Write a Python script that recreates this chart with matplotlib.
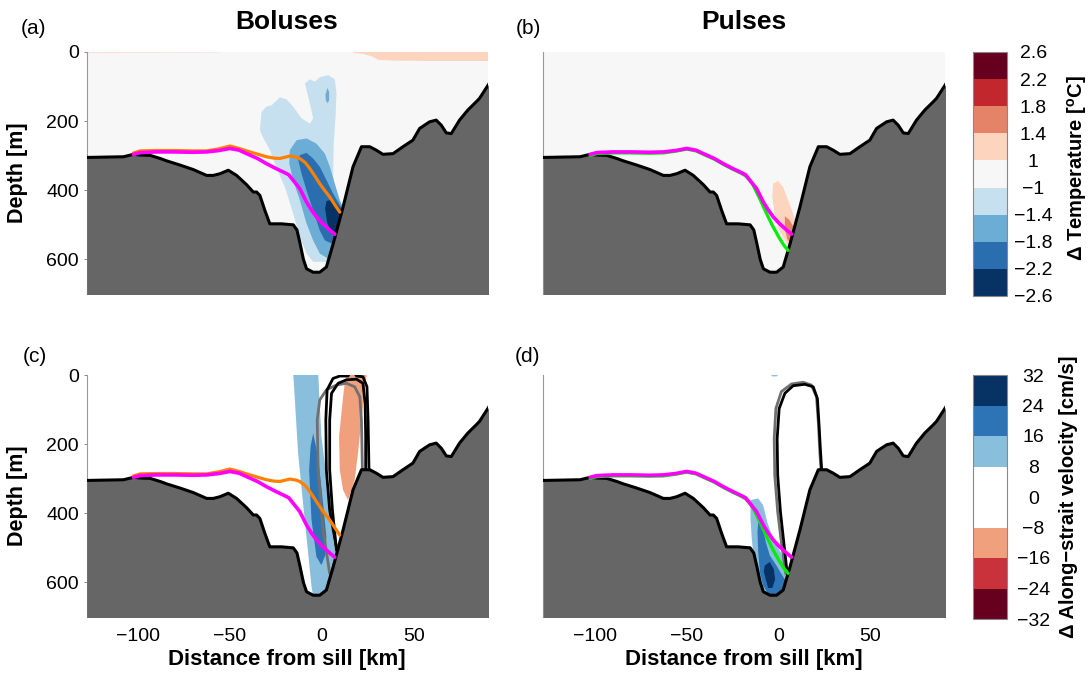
import matplotlib
matplotlib.use("Agg")
import matplotlib.pyplot as plt
from matplotlib.colors import ListedColormap, BoundaryNorm
from matplotlib.cm import ScalarMappable

plt.rcParams['font.family'] = ['Liberation Sans', 'DejaVu Sans']
plt.rcParams['mathtext.fontset'] = 'custom'
plt.rcParams['mathtext.rm'] = 'Liberation Sans'
plt.rcParams['mathtext.bf'] = 'Liberation Sans:bold'

# ---------------- data ----------------
titles = ["Boluses", "Pulses"]
panel_labels = ["(a)", "(b)", "(c)", "(d)"]
x_ticks = [-100, -50, 0, 50]
y_ticks = [0, 200, 400, 600]

# bathymetry (km, depth m)
bathy_km = [-128, -118, -108, -102.5, -98.9, -93.5, -88, -84.4, -77.2, -70, -62.7, -59.1,
            -55.4, -50.9, -46.4, -40.9, -37.3, -35.5, -33.7, -31.0, -28.3, -22, -15.5,
            -13.5, -12.0, -10.0, -8.3, -4.7, -1.1, 2.5, 6.2, 11.6, 17.0, 21.6, 26.1, 29.7,
            33.3, 38.8, 44.2, 49.6, 53.3, 58.7, 62.3, 65.1, 67.8, 70.5, 75.0, 79.5, 84.1,
            85.9, 91]
bathy_depth = [305, 304, 303, 296, 298, 299, 308, 315, 327, 340, 357, 357, 352, 342, 357,
               384, 405, 405, 415, 458, 497, 497, 500, 515, 550, 600, 627, 637, 637, 622,
               555, 448, 332, 274, 274, 284, 296, 294, 274, 255, 221, 202, 197, 212, 234,
               236, 197, 168, 144, 134, 92]

# isopycnal / plume lines
magenta_km = [-102.5, -98.9, -90, -80.8, -70, -62.7, -56, -50, -45, -40.9, -35, -30.1,
              -25, -21.0, -18, -15.6, -12.0, -8.3, -5.5, -2.9, 0, 2.5, 5, 7.1]
magenta_depth = [296, 291, 289, 289, 290, 289, 285, 279, 284, 294, 308, 323, 337, 347,
                 355, 371, 395, 434, 458, 477, 494, 506, 518, 527]
orange_km = [-102.5, -98.9, -90, -80, -70, -62.7, -56, -50, -45, -39.1, -34, -30.1, -26,
             -22.8, -17.4, -14, -12.0, -9, -6.5, -4, -1.1, 1.5, 4.3, 7, 9.8]
orange_depth = [292, 286, 285, 285, 286, 286, 280, 272, 279, 289, 297, 303, 307, 308, 301,
                304, 308, 320, 337, 357, 381, 400, 419, 441, 463]
green_km = [-102.5, -98.9, -90, -80.8, -70, -62.7, -56, -50, -45, -40.9, -35, -30.1, -25,
            -21.0, -18, -15.6, -13.9, -10.2, -6.6, -3.0, 0.6, 3, 5.2]
green_depth = [299, 294, 292, 292, 293, 292, 287, 281, 286, 296, 310, 325, 339, 349, 358,
               372, 385, 425, 467, 506, 540, 560, 574]

# temperature colour scale
temp_bounds = [-2.6, -2.2, -1.8, -1.4, -1, 1, 1.4, 1.8, 2.2, 2.6]
temp_ticklabels = ["\u22122.6", "\u22122.2", "\u22121.8", "\u22121.4", "\u22121",
                   "1", "1.4", "1.8", "2.2", "2.6"]
temp_colors = ["#063264", "#2a6eb0", "#6badd5", "#c7e0ef", "#f7f7f7",
               "#fdd4bd", "#e58368", "#c1272d", "#67001f"]

# velocity colour scale
vel_bounds = [-32, -24, -16, -8, 0, 8, 16, 24, 32]
vel_ticklabels = ["\u221232", "\u221224", "\u221216", "\u22128", "0", "8", "16", "24", "32"]
vel_colors = ["#67001f", "#c9323a", "#f1a07d", "#ffffff", "#ffffff",
              "#89bedc", "#2c74b5", "#063264"]

# (a) temperature anomaly regions
a_peach_right_km = [17, 91, 91, 60, 40, 31, 27, 22, 17]
a_peach_right_depth = [-10, -10, 26, 26, 25, 23, 12, 5, 2]
a_peach_left_km = [-128, -55, -55, -128]
a_peach_left_depth = [-10, -10, 1, 2]
a_lblue_km = [-33.7, -32.8, -30.1, -27.3, -22.8, -19.2, -15.6, -11.0, -6.5, -4.7, -6.5,
              -9.2, -6.5, -3.8, -1.1, 3.5, 7.1, 8.0, 7.5, 6.5, 6.2, 7.1, 12, 12, 4.4, -4.7,
              -8.3, -11.9, -15.6, -20.1, -24.6, -28.2, -32.2]
a_lblue_depth = [226, 173, 158, 154, 131, 137, 158, 192, 207, 192, 149, 91, 79, 86, 73,
                 67, 79, 120, 187, 265, 352, 429, 480, 600, 607, 607, 583, 535, 467, 390,
                 337, 284, 245]
a_dot_km = [2.0, 3.0, 4.0, 4.0, 3.2, 2.2]
a_dot_depth = [125, 104, 115, 140, 148, 140]
a_mblue_km = [-17.4, -13.7, -8.3, -2.9, 1.7, 4.4, 7.1, 9.8, 13, 10, 3.5, -1.1, -4.7,
              -8.3, -11.9, -15.6, -17.7]
a_mblue_depth = [284, 255, 250, 265, 294, 332, 381, 429, 467, 564, 598, 583, 545, 496,
                 429, 371, 323]
a_blue_km = [-11.9, -8.3, -4.7, -1.1, 2.6, 6.2, 11, 10, 5.3, 1.7, -1.1, -4.7, -8.3,
             -11.0, -12.8]
a_blue_depth = [298, 292, 308, 332, 371, 410, 453, 525, 554, 545, 516, 458, 400, 352, 313]
a_navy_km = [2.6, 6.2, 9.4, 12, 8.0, 5.3, 2.9, 1.8]
a_navy_depth = [431, 427, 448, 467, 535, 525, 492, 453]

# (b) temperature anomaly regions
b_peach_km = [-3.0, -0.3, 2.4, 5.2, 7.9, 10.1, 8.8, 5.2, 2.4, -0.3, -2.1, -3.4]
b_peach_depth = [381, 373, 390, 429, 468, 506, 555, 559, 535, 506, 468, 419]
b_salmon_km = [3.4, 5.7, 8.2, 8.8, 6.4, 4.6, 3.4]
b_salmon_depth = [475, 485, 506, 540, 556, 540, 511]

# (c) velocity anomaly regions
c_lblue_km = [-15.6, -12.9, -10.2, -7.4, -5.6, -4.7, 6.1, 8.0, 6.5, 4.4, 2.2, -0.2, -1.1,
              -2.0]
c_lblue_depth = [-10, 226, 371, 516, 612, 640, 640, 487, 420, 350, 280, 178, 87, -10]
c_blue_km = [-4.7, -2.0, 0.7, 2.5, 2.0, -0.2, -2.9, -5.6, -6.9, -6.1]
c_blue_depth = [169, 236, 371, 468, 520, 550, 526, 419, 275, 207]
c_salmon_km = [14.3, 24.6, 23.4, 21.6, 19.7, 17.9, 14.3, 11.6, 9.8, 9.4, 11.6, 12.5]
c_salmon_depth = [-10, -10, 43, 130, 226, 304, 362, 333, 275, 178, 63, 24]

# (c) streamfunction contours
c_gray_km = [4.3, 0.7, -2.0, -2.5, -1.1, 2.5, 8.0, 13.4, 17.9, 20.7, 21.6, 22.1, 22.3]
c_gray_depth = [574, 448, 275, 130, 72, 43, 29, 24, 34, 63, 130, 275, 285]
c_black_outer_km = [8.9, 4.3, 2.5, 2.2, 2.9, 6.1, 9.8, 14.3, 15.5, 17.5, 18.9, 22.4,
                    24.6, 25.2, 25.7, 25.8]
c_black_outer_depth = [526, 391, 275, 130, 43, 10, 3, 3, -10, -10, 3, 5, 34, 130, 275,
                       285]
c_black_inner_km = [8.0, 5.8, 4.3, 4.3, 5.3, 8.9, 13.4, 18.9, 22.4, 23.6, 23.9, 23.9]
c_black_inner_depth = [506, 391, 275, 130, 53, 24, 14, 12, 24, 82, 178, 285]

# (d) velocity anomaly regions
d_lblue_km = [-15.3, -11.1, -8.4, -6.2, -3.0, 1.0, 4.6, 5.7, 3.9, -1.2, -6.6, -9.3,
              -12.0, -13.9, -14.6, -15.3]
d_lblue_depth = [362, 357, 377, 425, 473, 512, 560, 594, 628, 640, 636, 604, 555, 512,
                 473, 415]
d_top_km = [-4.8, 0.6, -1.0, -3.5]
d_top_depth = [-5, -5, 4, 4]
d_blue_km = [-11.1, -8.8, -7.0, -4.8, -1.2, 1.5, 4.3, 3.4, -1.2, -5.7, -8.4, -10.2,
             -11.1, -11.5]
d_blue_depth = [425, 435, 483, 522, 551, 575, 599, 630, 638, 634, 609, 570, 512, 454]
d_navy_km = [-7.5, -4.8, -2.6, -1.9, -3.4, -5.7, -7.0, -8.1]
d_navy_depth = [551, 541, 562, 591, 616, 616, 591, 568]

# (d) streamfunction contours
d_black_km = [4.6, 3.0, 1.0, -0.5, -0.8, 0.3, 3.4, 7.9, 14.2, 18.8, 21.1, 22.0, 22.8, 23.5]
d_black_depth = [570, 493, 396, 290, 184, 97, 53, 31, 27, 34, 68, 145, 222, 280]
d_gray_km = [3.9, 1.7, -0.5, -2.1, -2.4, -1.5, 1.5, 7.0, 13.3, 17.8, 20.6, 21.7, 22.4, 23.1]
d_gray_depth = [575, 493, 396, 290, 184, 97, 48, 26, 21, 29, 63, 145, 222, 280]

# ---------------- styling ----------------
W, H = 1092, 677
fig = plt.figure(figsize=(W / 100, H / 100), dpi=100)


def px_axes(x0, y0, x1, y1):
    return fig.add_axes([x0 / W, 1 - y1 / H, (x1 - x0) / W, (y1 - y0) / H])


ax_a = px_axes(86.7, 52, 488, 294)
ax_b = px_axes(543.3, 52, 945, 294)
ax_c = px_axes(86.7, 375, 488, 617)
ax_d = px_axes(543.3, 375, 945, 617)
cax1 = px_axes(973, 52, 1007, 296)
cax2 = px_axes(973, 375, 1007, 619)

GROUND = "#666666"
XLIM = (-128, 90.5)
YLIM = (700, 0)


def base(ax, face, show_y, show_x):
    ax.set_facecolor(face)
    ax.set_xlim(*XLIM)
    ax.set_ylim(*YLIM)
    for s in ["top", "right", "bottom"]:
        ax.spines[s].set_visible(False)
    ax.spines["left"].set_color("#999999")
    ax.spines["left"].set_linewidth(0.8)
    ax.set_yticks(y_ticks)
    ax.set_xticks(x_ticks)
    ax.tick_params(axis="y", length=2.5, width=0.6, color="#777777", pad=3,
                   labelsize=14, labelleft=show_y)
    if not show_y:
        ax.tick_params(axis="y", length=0)
    ax.tick_params(axis="x", length=0, pad=8, labelsize=14, labelbottom=show_x)


def ground(ax):
    ax.fill_between(bathy_km, bathy_depth, 720, color=GROUND, zorder=5, lw=0)
    ax.plot(bathy_km, bathy_depth, color="black", lw=2.2, zorder=6,
            solid_joinstyle="round")


def region(ax, xs, ys, color, z=2):
    ax.fill(xs, ys, color=color, lw=0, zorder=z)


def line(ax, xs, ys, color, lw=2.3, z=7):
    ax.plot(xs, ys, color=color, lw=lw, zorder=z, solid_capstyle="round",
            solid_joinstyle="round")


# (a)
base(ax_a, "#f7f7f7", True, False)
region(ax_a, a_peach_right_km, a_peach_right_depth, temp_colors[5])
region(ax_a, a_peach_left_km, a_peach_left_depth, temp_colors[5])
region(ax_a, a_lblue_km, a_lblue_depth, temp_colors[3], 2)
region(ax_a, a_dot_km, a_dot_depth, temp_colors[2], 3)
region(ax_a, a_mblue_km, a_mblue_depth, temp_colors[2], 3)
region(ax_a, a_blue_km, a_blue_depth, temp_colors[1], 3.5)
region(ax_a, a_navy_km, a_navy_depth, temp_colors[0], 4)
ground(ax_a)
line(ax_a, orange_km, orange_depth, "#ff8000")
line(ax_a, magenta_km, magenta_depth, "#ff00ff", 2.6, 8)

# (b)
base(ax_b, "#f7f7f7", False, False)
region(ax_b, b_peach_km, b_peach_depth, temp_colors[5])
region(ax_b, b_salmon_km, b_salmon_depth, temp_colors[6], 3)
ground(ax_b)
line(ax_b, green_km, green_depth, "#00ee00")
line(ax_b, magenta_km, magenta_depth, "#ff00ff", 2.6, 8)

# (c)
base(ax_c, "white", True, True)
region(ax_c, c_lblue_km, c_lblue_depth, vel_colors[5])
region(ax_c, c_blue_km, c_blue_depth, vel_colors[6], 3)
region(ax_c, c_salmon_km, c_salmon_depth, vel_colors[2])
line(ax_c, c_gray_km, c_gray_depth, "#707070", 2.0, 4)
line(ax_c, c_black_outer_km, c_black_outer_depth, "black", 2.0, 4)
line(ax_c, c_black_inner_km, c_black_inner_depth, "black", 2.0, 4)
ground(ax_c)
line(ax_c, orange_km, orange_depth, "#ff8000")
line(ax_c, magenta_km, magenta_depth, "#ff00ff", 2.6, 8)

# (d)
base(ax_d, "white", False, True)
region(ax_d, d_lblue_km, d_lblue_depth, vel_colors[5])
region(ax_d, d_top_km, d_top_depth, vel_colors[5])
region(ax_d, d_blue_km, d_blue_depth, vel_colors[6], 3)
region(ax_d, d_navy_km, d_navy_depth, vel_colors[7], 3.5)
line(ax_d, d_gray_km, d_gray_depth, "#707070", 2.0, 4)
line(ax_d, d_black_km, d_black_depth, "black", 2.0, 4)
ground(ax_d)
line(ax_d, green_km, green_depth, "#00ee00")
line(ax_d, magenta_km, magenta_depth, "#ff00ff", 2.6, 8)


# colourbars
def make_cbar(cax, bounds, colors, labels):
    cmap = ListedColormap(colors)
    norm = BoundaryNorm(bounds, cmap.N)
    cb = fig.colorbar(ScalarMappable(norm=norm, cmap=cmap), cax=cax,
                      spacing="uniform", ticks=bounds)
    cb.set_ticklabels(labels)
    cb.outline.set_edgecolor("#888888")
    cb.outline.set_linewidth(0.8)
    cax.tick_params(length=0, pad=19, labelsize=14)
    for t in cax.get_yticklabels():
        t.set_horizontalalignment("center")
    return cb


make_cbar(cax1, temp_bounds, temp_colors, temp_ticklabels)
make_cbar(cax2, vel_bounds, vel_colors, vel_ticklabels)

fig.text(1077 / W, 1 - 168 / H, "\u0394 Temperature [$^{\\mathbf{o}}$C]", rotation=90,
         ha="center", va="center", fontsize=14.5, fontweight="bold")
fig.text(1069 / W, 1 - 497 / H, "\u0394 Along\u2212strait velocity [cm/s]", rotation=90,
         ha="center", va="center", fontsize=14.5, fontweight="bold")

# texts
fig.text(287 / W, 1 - 22 / H, titles[0], ha="center", va="center", fontsize=19,
         fontweight="bold")
fig.text(744 / W, 1 - 22 / H, titles[1], ha="center", va="center", fontsize=19,
         fontweight="bold")
for lab, (x, y) in zip(panel_labels, [(33, 29), (528, 29), (35, 356), (528, 356)]):
    fig.text(x / W, 1 - y / H, lab, ha="center", va="center", fontsize=15)
for y in [173, 496]:
    fig.text(17.5 / W, 1 - y / H, "Depth [m]", rotation=90, ha="center", va="center",
             fontsize=15.5, fontweight="bold")
for x in [287, 744]:
    fig.text(x / W, 1 - 659 / H, "Distance from sill [km]", ha="center", va="center",
             fontsize=16, fontweight="bold")

fig.savefig("out.png", dpi=100)
